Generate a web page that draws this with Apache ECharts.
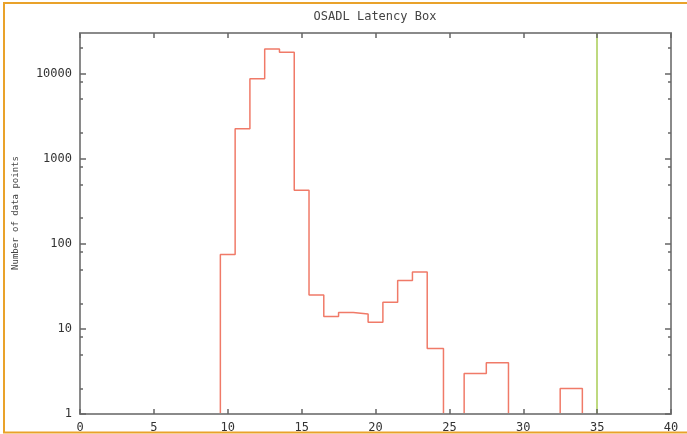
<!DOCTYPE html>
<html>
<head>
<meta charset="utf-8">
<script src="https://cdn.jsdelivr.net/npm/echarts@6/dist/echarts.min.js"></script>
<style>
  html, body { margin: 0; padding: 0; background: #ffffff; }
  #chart { width: 687px; height: 434px; }
</style>
</head>
<body>
<div id="chart"></div>
<script>
// ---- data ----
const chartTitle = 'OSADL Latency Box';
const yAxisTitle = 'Number of data points';
// histogram bin edges (latency in microseconds) and the count of each bin (0 = empty)
const binEdges = [9.5, 10.5, 11.5, 12.5, 13.5, 14.5, 15.5, 16.5, 17.5, 18.5, 19.5, 20.5, 21.5, 22.5, 23.5, 24.6, 26, 27.5, 29, 32.5, 34];
const binCounts = [75, 2250, 8700, 19500, 17800, 425, 25, 14, 15.6, 15, 12, 20.6, 37, 46.6, 5.9, 0, 3, 4, 0, 2];
// vertical marker line (max latency limit)
const markerX = [35];
// axis ticks
const xTickValues = [0, 5, 10, 15, 20, 25, 30, 35, 40];
const yMajorTicks = [1, 10, 100, 1000, 10000];
const yMinorTicks = [2, 5, 8, 20, 50, 80, 200, 500, 800, 2000, 5000, 8000, 20000];
const yMin = 1, yMax = 30000, xMin = 0, xMax = 40;

// ---- build the step histogram from the arrays ----
const stepData = [[binEdges[0], yMin]];
for (let i = 0; i < binCounts.length; i++) {
  stepData.push([binEdges[i], Math.max(binCounts[i], yMin)]);
}
stepData.push([binEdges[binEdges.length - 1], yMin]);

const font = 'DejaVu Sans Mono';
const axisGray = '#8a8a8a';

function xAxisDef(pos, showLabels) {
  return {
    type: 'value', position: pos, min: xMin, max: xMax, interval: 5,
    z: 5,
    axisLine: { show: true, onZero: false, lineStyle: { color: axisGray, width: 2 } },
    axisTick: { show: true, inside: true, length: 5, customValues: xTickValues, lineStyle: { color: '#666', width: 1.5 } },
    axisLabel: { show: showLabels, customValues: xTickValues, margin: 8, fontFamily: font, fontSize: 12, color: '#333' },
    splitLine: { show: false }
  };
}
function yAxisDef(pos, ticks, len, showLabels, showLine) {
  return {
    type: 'log', logBase: 10, position: pos, offset: 0, min: yMin, max: yMax,
    z: 5,
    axisLine: { show: showLine, onZero: false, lineStyle: { color: axisGray, width: 2 } },
    axisTick: { show: true, inside: true, length: len, customValues: ticks, lineStyle: { color: '#666', width: 1.5 } },
    axisLabel: { show: showLabels, customValues: ticks, margin: 8, fontFamily: font, fontSize: 12, color: '#333',
      formatter: function (v) { return String(v); } },
    splitLine: { show: false },
    minorTick: { show: false }
  };
}

const chart = echarts.init(document.getElementById('chart'), null, { renderer: 'canvas' });
chart.setOption({
  animation: false,
  backgroundColor: '#ffffff',
  grid: { left: 80, top: 33, width: 591, height: 386, containLabel: false },
  xAxis: [xAxisDef('bottom', true), xAxisDef('top', false)],
  yAxis: [
    yAxisDef('left', yMajorTicks, 6, true, true),
    yAxisDef('left', yMinorTicks, 3, false, false),
    yAxisDef('right', yMajorTicks, 6, false, true),
    yAxisDef('right', yMinorTicks, 3, false, false)
  ],
  graphic: [
    { type: 'rect', shape: { x: 4, y: 3, width: 720, height: 429.5 },
      style: { fill: 'none', stroke: '#e9a22a', lineWidth: 2 }, silent: true, z: 10 },
    { type: 'text', x: 375, y: 17,
      style: { text: chartTitle, fontFamily: font, fontSize: 12, fill: '#444', align: 'center', verticalAlign: 'middle' } },
    { type: 'text', x: 15.5, y: 213, rotation: Math.PI / 2,
      style: { text: yAxisTitle, fontFamily: font, fontSize: 9, fill: '#444', align: 'center', verticalAlign: 'middle' } }
  ],
  series: [
    {
      type: 'line',
      xAxisIndex: 0, yAxisIndex: 0,
      step: 'end',
      data: stepData,
      showSymbol: false,
      symbol: 'none',
      lineStyle: { color: '#f07a68', width: 1.5 },
      z: 2,
      markLine: {
        silent: true,
        symbol: ['none', 'none'],
        label: { show: false },
        lineStyle: { color: '#a8cc55', width: 1.5, type: 'solid' },
        data: markerX.map(function (v) { return { xAxis: v }; })
      }
    }
  ]
});
</script>
</body>
</html>
